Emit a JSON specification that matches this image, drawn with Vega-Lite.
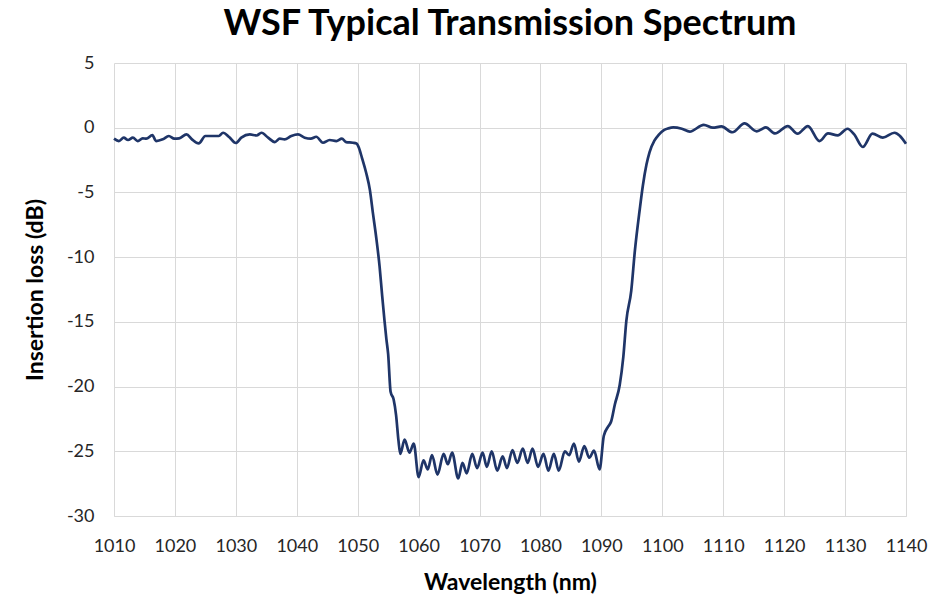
{
  "$schema": "https://vega.github.io/schema/vega-lite/v6.json",
  "width": 792,
  "height": 453,
  "autosize": {"type": "none"},
  "padding": {"left": 114, "top": 63, "right": 36, "bottom": 81},
  "background": "white",
  "title": {
    "text": "WSF Typical Transmission Spectrum",
    "font": "Lato",
    "fontSize": 36,
    "fontWeight": "bold",
    "color": "#000000",
    "anchor": "middle",
    "offset": 11
  },
  "config": {
    "view": {"stroke": null},
    "axis": {
      "labelFont": "Lato",
      "titleFont": "Lato",
      "labelFontSize": 18,
      "labelColor": "#262626",
      "titleFontSize": 23,
      "titleFontWeight": "bold",
      "titleColor": "#000000",
      "gridColor": "#d9d9d9",
      "gridWidth": 1,
      "ticks": false,
      "labelOverlap": false,
      "labelFlush": false
    }
  },
  "data": {
    "values": [
      {"wl": 1010.0, "db": -0.85}, {"wl": 1010.8, "db": -1.03}, {"wl": 1011.6, "db": -0.77},
      {"wl": 1012.3, "db": -0.95}, {"wl": 1013.1, "db": -0.77}, {"wl": 1013.9, "db": -1.03},
      {"wl": 1014.7, "db": -0.82}, {"wl": 1015.3, "db": -0.85}, {"wl": 1016.3, "db": -0.57},
      {"wl": 1016.9, "db": -1.03}, {"wl": 1018.0, "db": -0.9}, {"wl": 1019.0, "db": -0.64},
      {"wl": 1019.9, "db": -0.85}, {"wl": 1020.7, "db": -0.82}, {"wl": 1021.9, "db": -0.52},
      {"wl": 1022.8, "db": -0.9}, {"wl": 1023.9, "db": -1.21}, {"wl": 1025.0, "db": -0.64},
      {"wl": 1026.2, "db": -0.64}, {"wl": 1027.2, "db": -0.64}, {"wl": 1027.9, "db": -0.39},
      {"wl": 1028.9, "db": -0.72}, {"wl": 1030.0, "db": -1.18}, {"wl": 1030.9, "db": -0.77},
      {"wl": 1032.3, "db": -0.52}, {"wl": 1033.4, "db": -0.6}, {"wl": 1034.2, "db": -0.39},
      {"wl": 1035.3, "db": -0.77}, {"wl": 1036.4, "db": -1.11}, {"wl": 1037.2, "db": -0.85},
      {"wl": 1038.0, "db": -0.9}, {"wl": 1039.1, "db": -0.64}, {"wl": 1040.2, "db": -0.52},
      {"wl": 1041.3, "db": -0.77}, {"wl": 1042.3, "db": -0.85}, {"wl": 1043.2, "db": -0.7},
      {"wl": 1044.3, "db": -1.16}, {"wl": 1045.4, "db": -0.95}, {"wl": 1046.5, "db": -1.03},
      {"wl": 1047.4, "db": -0.85}, {"wl": 1048.1, "db": -1.11}, {"wl": 1049.2, "db": -1.16},
      {"wl": 1049.8, "db": -1.22}, {"wl": 1050.2, "db": -1.55}, {"wl": 1050.7, "db": -2.33},
      {"wl": 1051.4, "db": -3.5}, {"wl": 1052.0, "db": -4.8}, {"wl": 1052.5, "db": -6.6},
      {"wl": 1053.1, "db": -8.7}, {"wl": 1053.6, "db": -10.75}, {"wl": 1054.0, "db": -12.9},
      {"wl": 1054.4, "db": -14.9}, {"wl": 1054.7, "db": -16.3}, {"wl": 1055.0, "db": -17.5},
      {"wl": 1055.4, "db": -20.4}, {"wl": 1055.9, "db": -21.0}, {"wl": 1056.3, "db": -22.2},
      {"wl": 1056.7, "db": -24.2}, {"wl": 1057.0, "db": -25.2}, {"wl": 1057.7, "db": -24.1},
      {"wl": 1058.5, "db": -25.1}, {"wl": 1059.2, "db": -24.4}, {"wl": 1060.0, "db": -27.0},
      {"wl": 1060.8, "db": -25.7}, {"wl": 1061.5, "db": -26.4}, {"wl": 1062.2, "db": -25.3},
      {"wl": 1063.1, "db": -26.8}, {"wl": 1064.1, "db": -25.2}, {"wl": 1064.8, "db": -26.0},
      {"wl": 1065.5, "db": -25.1}, {"wl": 1066.5, "db": -27.1}, {"wl": 1067.2, "db": -25.9},
      {"wl": 1067.9, "db": -26.7}, {"wl": 1068.8, "db": -25.2}, {"wl": 1069.6, "db": -26.3},
      {"wl": 1070.5, "db": -25.1}, {"wl": 1071.2, "db": -26.2}, {"wl": 1072.0, "db": -25.0},
      {"wl": 1072.9, "db": -26.5}, {"wl": 1073.8, "db": -25.4}, {"wl": 1074.5, "db": -26.3},
      {"wl": 1075.4, "db": -24.9}, {"wl": 1076.2, "db": -25.9}, {"wl": 1077.1, "db": -24.8},
      {"wl": 1077.9, "db": -25.9}, {"wl": 1078.7, "db": -24.8}, {"wl": 1079.6, "db": -26.2},
      {"wl": 1080.5, "db": -25.2}, {"wl": 1081.3, "db": -26.5}, {"wl": 1082.2, "db": -25.2},
      {"wl": 1083.0, "db": -26.5}, {"wl": 1084.0, "db": -25.0}, {"wl": 1084.7, "db": -25.3},
      {"wl": 1085.5, "db": -24.4}, {"wl": 1086.3, "db": -25.8}, {"wl": 1087.2, "db": -24.6},
      {"wl": 1088.0, "db": -25.5}, {"wl": 1088.8, "db": -24.95}, {"wl": 1089.7, "db": -26.4},
      {"wl": 1090.4, "db": -23.8}, {"wl": 1091.1, "db": -23.1}, {"wl": 1091.6, "db": -22.7},
      {"wl": 1092.2, "db": -21.4}, {"wl": 1093.0, "db": -19.9}, {"wl": 1093.6, "db": -17.7},
      {"wl": 1094.1, "db": -14.9}, {"wl": 1094.9, "db": -12.6}, {"wl": 1095.5, "db": -9.5},
      {"wl": 1096.3, "db": -6.3}, {"wl": 1096.8, "db": -4.5}, {"wl": 1097.4, "db": -2.85},
      {"wl": 1097.9, "db": -1.9}, {"wl": 1098.7, "db": -1.0}, {"wl": 1099.4, "db": -0.55},
      {"wl": 1100.2, "db": -0.2}, {"wl": 1101.0, "db": -0.05}, {"wl": 1101.8, "db": 0.02},
      {"wl": 1103.2, "db": -0.08}, {"wl": 1104.5, "db": -0.3}, {"wl": 1106.8, "db": 0.22},
      {"wl": 1108.3, "db": 0.0}, {"wl": 1109.7, "db": 0.1}, {"wl": 1111.5, "db": -0.35},
      {"wl": 1113.5, "db": 0.33}, {"wl": 1115.5, "db": -0.28}, {"wl": 1117.0, "db": 0.02},
      {"wl": 1118.5, "db": -0.44}, {"wl": 1120.6, "db": 0.13}, {"wl": 1122.2, "db": -0.46},
      {"wl": 1123.9, "db": 0.13}, {"wl": 1125.8, "db": -1.03}, {"wl": 1127.2, "db": -0.44},
      {"wl": 1128.8, "db": -0.59}, {"wl": 1130.4, "db": -0.08}, {"wl": 1131.5, "db": -0.52},
      {"wl": 1132.9, "db": -1.49}, {"wl": 1134.5, "db": -0.46}, {"wl": 1136.2, "db": -0.77},
      {"wl": 1138.1, "db": -0.39}, {"wl": 1140.0, "db": -1.24}
    ]
  },
  "mark": {"type": "line", "interpolate": "monotone", "color": "#1f3568", "strokeWidth": 2.7},
  "encoding": {
    "x": {
      "field": "wl",
      "type": "quantitative",
      "title": "Wavelength (nm)",
      "scale": {"domain": [1010, 1140], "nice": false, "zero": false},
      "axis": {
        "values": [1010, 1020, 1030, 1040, 1050, 1060, 1070, 1080, 1090, 1100, 1110, 1120, 1130, 1140],
        "labelExpr": "toString(datum.value)",
        "labelPadding": 21,
        "titlePadding": 16,
        "domainColor": "#d9d9d9",
        "domainWidth": 1
      }
    },
    "y": {
      "field": "db",
      "type": "quantitative",
      "title": "Insertion loss  (dB)",
      "scale": {"domain": [-30, 5], "nice": false, "zero": false},
      "axis": {
        "values": [-30, -25, -20, -15, -10, -5, 0, 5],
        "labelExpr": "toString(datum.value)",
        "labelPadding": 20,
        "titlePadding": 19,
        "domain": false
      }
    }
  }
}
